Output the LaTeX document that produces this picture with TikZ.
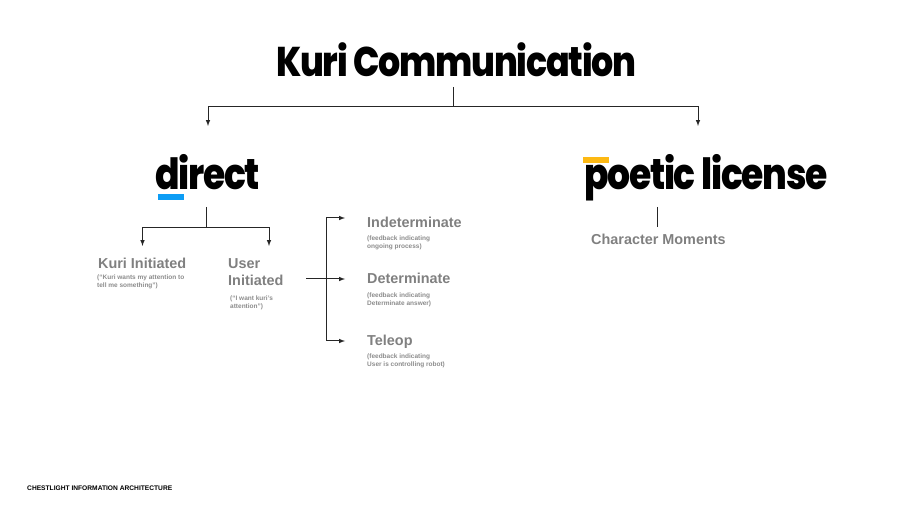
\documentclass[tikz,border=0pt]{standalone}
\usepackage{fontspec}
\setmainfont{Liberation Sans}
\newfontfamily\headfont[FakeStretch=0.84,LetterSpace=-3]{Poppins ExtraBold}
\usetikzlibrary{arrows,shapes}
\definecolor{labelgrey}{HTML}{808080}
\definecolor{notegrey}{HTML}{8C8C8C}
\definecolor{directblue}{HTML}{0D9DF5}
\definecolor{poeticyellow}{HTML}{FDB913}
\tikzstyle{heading}=[inner sep=0pt,anchor=base west,text=black]
\tikzstyle{label}=[inner sep=0pt,anchor=base west,text=labelgrey,font=\fontsize{14.4}{17.3}\selectfont\bfseries,align=left]
\tikzstyle{note}=[inner sep=0pt,anchor=base west,text=notegrey,font=\fontsize{6.5}{8}\selectfont\bfseries,align=left]
\tikzstyle{bar}=[minimum width=26pt,minimum height=6pt,inner sep=0pt,anchor=north west]
\tikzstyle{edge} = [draw,black!85,line width=1pt,-]
\tikzstyle{arrow} = [draw,black!85,line width=1pt,-latex]

\begin{document}
\begin{tikzpicture}[x=1pt,y=-1pt]
    \useasboundingbox (0,0) rectangle (907,510);
    % First we draw the headings
    \node[heading,font=\headfont\fontsize{41.5}{46}\selectfont] (title) at (276,76.5) {Kuri Communication};
    \node[heading,font=\headfont\fontsize{43}{44}\selectfont] (direct) at (155,190) {direct};
    \node[heading,font=\headfont\fontsize{43}{44}\selectfont] (poetic) at (584,190) {poetic license};
    \node[bar,fill=directblue] (directbar) at (158,194) {};
    \node[bar,fill=poeticyellow] (poeticbar) at (583,157) {};

    % Then the grey labels and their notes
    \foreach \pos/\name/\txt in {{(98,269)/kuri/Kuri Initiated}, {(228,286)/user/User\\Initiated}, {(367,228)/indet/Indeterminate}, {(367,284)/det/Determinate}, {(367,345.5)/teleop/Teleop}, {(591,244.5)/moments/Character Moments}}
        \node[label] (\name) at \pos {\txt};
    \foreach \pos/\name/\txt in {{(97,287.5)/kurinote/(``Kuri wants my attention to\\tell me something'')}, {(230,308.5)/usernote/(``I want kuri's\\attention'')}, {(367,249)/indetnote/(feedback indicating\\ongoing process)}, {(367,305.5)/detnote/(feedback indicating\\Determinate answer)}, {(367,366.5)/teleopnote/(feedback indicating\\User is controlling robot)}}
        \node[note] (\name) at \pos {\txt};
    \node[inner sep=0pt,anchor=base west,font=\fontsize{6.65}{8}\selectfont\bfseries] (footer) at (27,490) {CHESTLIGHT INFORMATION ARCHITECTURE};

    % Points where the connectors start and turn
    \foreach \pos/\name in {{(453,87)/rootstem}, {(453,106.5)/rootbar}, {(208,126)/directtip}, {(698,126)/poetictip}, {(206,207)/directstem}, {(206,227.5)/directjoin}, {(142.5,246)/kuritip}, {(269,246)/usertip}, {(306,279)/userstem}, {(326,279)/spine}, {(345,218)/indettip}, {(345,279)/dettip}, {(345,341)/teleoptip}, {(657,207)/poeticstem}, {(657,227)/momentstop}}
        \node[coordinate] (\name) at \pos {};

    % Connect them with edges
    \path[edge] (rootstem) -- (rootbar);
    \path[edge] (directstem) -- (directjoin);
    \path[edge] (poeticstem) -- (momentstop);
    \foreach \source/ \dest in {rootbar/directtip, rootbar/poetictip, directjoin/kuritip, directjoin/usertip}
        \path[arrow] (\source) -| (\dest);
    \path[arrow] (userstem) -- (dettip);
    \foreach \dest in {indettip, teleoptip}
        \path[arrow] (spine) |- (\dest);
\end{tikzpicture}
\end{document}
